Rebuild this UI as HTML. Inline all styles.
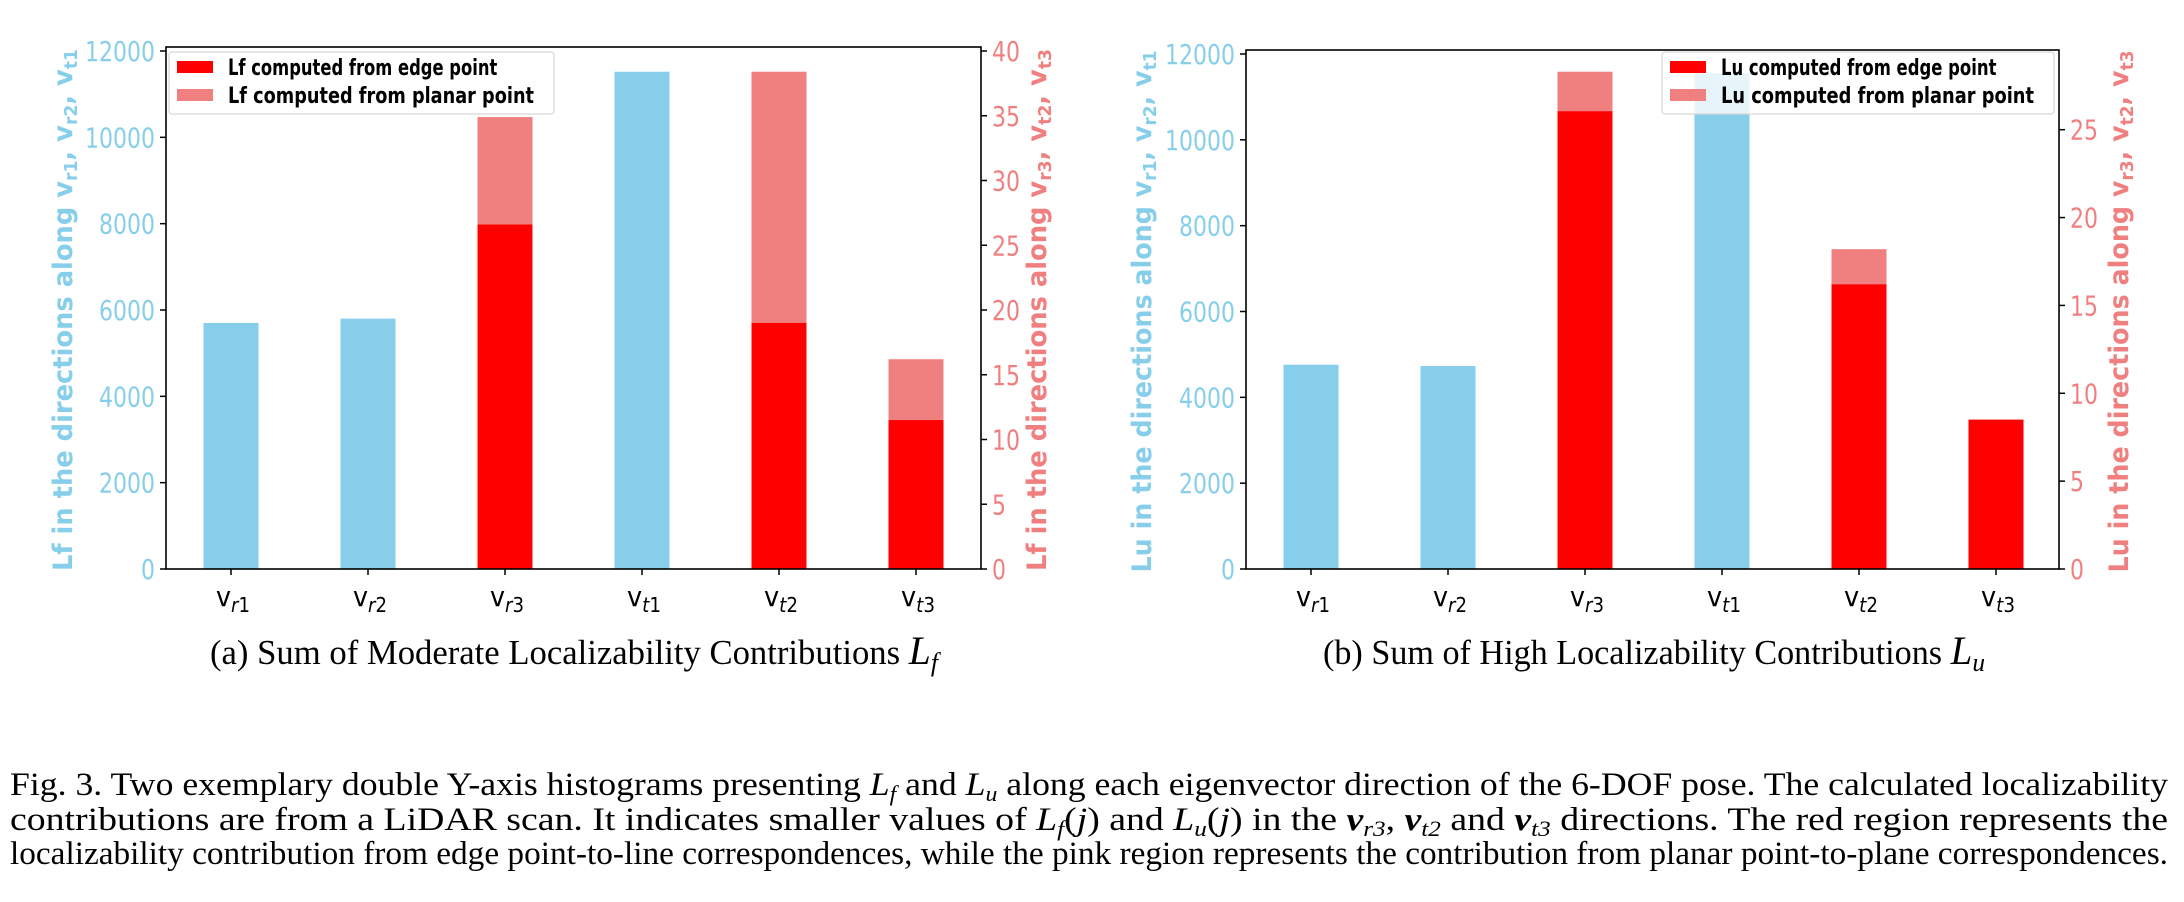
<!DOCTYPE html>
<html><head><meta charset="utf-8"><style>
html,body{margin:0;padding:0;background:#fff;}
svg{display:block;}
</style></head><body>
<svg id="fig" width="2184" height="902" viewBox="0 0 2184 902" xmlns="http://www.w3.org/2000/svg">
<g id="chartA"></g>
<g id="chartB"></g>
<g font-family="'Liberation Serif', serif" font-size="33" fill="#000">
<text x="10" y="795" textLength="2158" lengthAdjust="spacingAndGlyphs">Fig. 3.  Two exemplary double Y-axis histograms presenting <tspan font-style="italic">L</tspan><tspan font-style="italic" font-size="22" dy="6">f</tspan><tspan dy="-6"> and </tspan><tspan font-style="italic">L</tspan><tspan font-style="italic" font-size="22" dy="6">u</tspan><tspan dy="-6"> along each eigenvector direction of the 6-DOF pose. The calculated localizability</tspan></text>
<text x="10" y="830" textLength="2158" lengthAdjust="spacingAndGlyphs">contributions are from a LiDAR scan. It indicates smaller values of <tspan font-style="italic">L</tspan><tspan font-style="italic" font-size="22" dy="6">f</tspan><tspan dy="-6">(</tspan><tspan font-style="italic">j</tspan>) and <tspan font-style="italic">L</tspan><tspan font-style="italic" font-size="22" dy="6">u</tspan><tspan dy="-6">(</tspan><tspan font-style="italic">j</tspan>) in the <tspan font-style="italic" font-weight="bold">v</tspan><tspan font-style="italic" font-size="22" dy="6">r3</tspan><tspan dy="-6">, </tspan><tspan font-style="italic" font-weight="bold">v</tspan><tspan font-style="italic" font-size="22" dy="6">t2</tspan><tspan dy="-6"> and </tspan><tspan font-style="italic" font-weight="bold">v</tspan><tspan font-style="italic" font-size="22" dy="6">t3</tspan><tspan dy="-6"> directions. The red region represents the</tspan></text>
<text x="10" y="864" textLength="2158" lengthAdjust="spacingAndGlyphs">localizability contribution from edge point-to-line correspondences, while the pink region represents the contribution from planar point-to-plane correspondences.</text>
</g>
</svg>
<script>
const categories = ['r1','r2','r3','t1','t2','t3'];
// chart A (Lf)
const aBlue = [5700, 5800, null, 11520, null, null];
const aEdge = [null, null, 26.6, null, 19.0, 11.5];
const aTotal = [null, null, 34.9, null, 38.4, 16.2];
const aLeftTicks = [0,2000,4000,6000,8000,10000,12000];
const aRightTicks = [0,5,10,15,20,25,30,35,40];
// chart B (Lu)
const bBlue = [4760, 4730, null, 11550, null, null];
const bEdge = [null, null, 26.05, null, 16.2, 8.5];
const bTotal = [null, null, 28.3, null, 18.2, 8.5];
const bLeftTicks = [0,2000,4000,6000,8000,10000,12000];
const bRightTicks = [0,5,10,15,20,25];

const NS='http://www.w3.org/2000/svg';
function mk(parent, tag, attrs, text){
  const e=document.createElementNS(NS,tag);
  for(const k in attrs) e.setAttribute(k,attrs[k]);
  if(text!==undefined) e.textContent=text;
  parent.appendChild(e); return e;
}
function drawChart(g, cfg){
  const {x0,x1,top,base,lmax,rmax,blue,edge,total,lt,rt,cx0,letter,capMid} = cfg;
  const yL=v=>base-(v/lmax)*(base-cfg.l12);
  const yR=v=>base-(v/rmax)*(base-cfg.rTopY);
  const xC=i=>cx0+i*137;
  const bw=55;
  blue.forEach((v,i)=>{ if(v==null) return;
    const r=mk(g,'rect',{x:xC(i)-bw/2,y:yL(v),width:bw,height:base-yL(v),fill:'#87CEEB'});
    
    
  });
  total.forEach((v,i)=>{ if(v==null) return;
    const r=mk(g,'rect',{x:xC(i)-bw/2,y:yR(v),width:bw,height:base-yR(v),fill:'#F08080'});
    
    
  });
  edge.forEach((v,i)=>{ if(v==null) return;
    const r=mk(g,'rect',{x:xC(i)-bw/2,y:yR(v),width:bw,height:base-yR(v),fill:'#FF0000'});
    
    
  });
  const fr=mk(g,'rect',{x:x0,y:top,width:x1-x0,height:base-top,fill:'none',stroke:'#000','stroke-width':1.6});
  
  
  lt.forEach(v=>{
    const y=yL(v);
    mk(g,'line',{x1:x0-6,x2:x0,y1:y,y2:y,stroke:'#000','stroke-width':1.5});
    const t=mk(g,'text',{x:x0-11,y:y+10,'text-anchor':'end','font-family':"'DejaVu Sans',sans-serif",'font-size':28,fill:'#87CEEB',textLength:String(v).length*14,lengthAdjust:'spacingAndGlyphs'},String(v));
    
    
  });
  rt.forEach(v=>{
    const y=yR(v);
    mk(g,'line',{x1:x1,x2:x1+6,y1:y,y2:y,stroke:'#000','stroke-width':1.5});
    const t=mk(g,'text',{x:x1+11,y:y+10,'text-anchor':'start','font-family':"'DejaVu Sans',sans-serif",'font-size':28,fill:'#F08080',textLength:String(v).length*14,lengthAdjust:'spacingAndGlyphs'},String(v));
    
    
  });
  categories.forEach((c,i)=>{
    const x=xC(i);
    mk(g,'line',{x1:x,x2:x,y1:base,y2:base+6,stroke:'#000','stroke-width':1.5});
    const t=mk(g,'text',{x:x-15,y:base+37,'font-family':"'DejaVu Sans',sans-serif",'font-size':28,fill:'#000',textLength:34,lengthAdjust:'spacingAndGlyphs'});
    
    
    mk(t,'tspan',{},'v');
    mk(t,'tspan',{'font-size':20,dy:6,'font-style':'italic'},c[0]);
    mk(t,'tspan',{'font-size':20},c[1]);
  });
  const mid=(top+base)/2+2;
  const yl=mk(g,'text',{transform:`translate(${cfg.llx},${mid}) rotate(-90)`,'text-anchor':'middle','font-family':"'DejaVu Sans',sans-serif",'font-weight':'bold','font-size':27,fill:'#87CEEB',textLength:522,lengthAdjust:'spacingAndGlyphs'});
  
  
  yl.innerHTML=`${letter} in the directions along v<tspan font-size="18" dy="5">r1</tspan><tspan dy="-5">, v</tspan><tspan font-size="18" dy="5">r2</tspan><tspan dy="-5">, v</tspan><tspan font-size="18" dy="5">t1</tspan>`;
  const yr=mk(g,'text',{transform:`translate(${cfg.rlx},${mid}) rotate(-90)`,'text-anchor':'middle','font-family':"'DejaVu Sans',sans-serif",'font-weight':'bold','font-size':27,fill:'#F08080',textLength:522,lengthAdjust:'spacingAndGlyphs'});
  
  
  yr.innerHTML=`${letter} in the directions along v<tspan font-size="18" dy="5">r3</tspan><tspan dy="-5">, v</tspan><tspan font-size="18" dy="5">t2</tspan><tspan dy="-5">, v</tspan><tspan font-size="18" dy="5">t3</tspan>`;
  const lg=mk(g,'g',{});
  
  
  mk(lg,'rect',{x:cfg.lgx,y:52,width:cfg.lgw,height:62,rx:3,fill:'#fff','fill-opacity':0.8,stroke:'#d6d6d6','stroke-width':1.2});
  [['#FF0000','edge point',67],['#F08080','planar point',95]].forEach(([col,lab,y])=>{
    const e=mk(lg,'g',{});
    
    
    mk(e,'rect',{x:cfg.lgx+8,y:y-6,width:36,height:12,fill:col});
    mk(e,'text',{x:cfg.lgx+59,y:y+8,'font-family':"'DejaVu Sans',sans-serif",'font-weight':'bold','font-size':22,fill:'#000',textLength:lab==='edge point'?(cfg.lgw-79)*0.88:(cfg.lgw-79),lengthAdjust:'spacingAndGlyphs'},`${letter} computed from ${lab}`);
  });
  const cap=mk(g,'text',{x:capMid,y:664,'text-anchor':'middle','font-family':"'Liberation Serif',serif",'font-size':35,fill:'#000',textLength:cfg.capLen,lengthAdjust:'spacingAndGlyphs'});
  
  
  cap.innerHTML=`${cfg.capText} <tspan font-style="italic" font-size="40">L</tspan><tspan font-style="italic" font-size="26" dy="7">${letter[1]}</tspan>`;
}
drawChart(document.getElementById('chartA'),{x0:166,x1:981,top:47,base:569,l12:51,rTopY:51,lmax:12000,rmax:40,blue:aBlue,edge:aEdge,total:aTotal,lt:aLeftTicks,rt:aRightTicks,cx0:231,letter:'Lf',llx:72,rlx:1046,lgx:169,lgw:385,capMid:574,capLen:728,capText:'(a) Sum of Moderate Localizability Contributions'});
drawChart(document.getElementById('chartB'),{x0:1246,x1:2059,top:50,base:569,l12:54,rTopY:129.7,lmax:12000,rmax:25,blue:bBlue,edge:bEdge,total:bTotal,lt:bLeftTicks,rt:bRightTicks,cx0:1311,letter:'Lu',llx:1151,rlx:2128,lgx:1662,lgw:392,capMid:1654,capLen:662,capText:'(b) Sum of High Localizability Contributions'});
</script>
</body></html>
